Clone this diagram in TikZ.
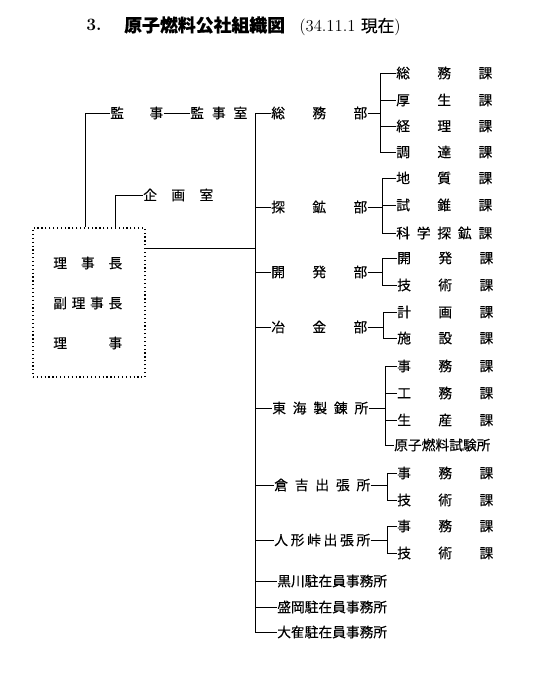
\documentclass[tikz,border=0pt]{standalone}
\usepackage{fontspec}
\newfontfamily\cjk[FakeBold=0.3]{Noto Sans CJK JP}
\usepackage{tikz}
\usetikzlibrary{positioning}
\newcommand{\spread}[2]{\makebox[#1][s]{#2}}

\begin{document}
\begin{tikzpicture}[x=0.75pt, y=-0.75pt,
    lbl/.style={anchor=west, inner sep=0pt, font=\cjk\fontsize{10.3}{12}\selectfont},
    link/.style={line width=0.7pt},
    execbox/.style={draw, dotted, line width=0.9pt, minimum width=84pt, minimum height=111.75pt, inner sep=0pt},
]
    \useasboundingbox (0,0) rectangle (537,685);

    % Title
    \node[anchor=west, inner sep=0pt, font=\bfseries\fontsize{13}{15}\selectfont] (num) at (86,25) {3.};
    \node[lbl, font=\cjk\bfseries\fontsize{13.4}{16}\selectfont] (title) at (124,25) {原子燃料公社組織図};
    \node[anchor=west, inner sep=0pt, font=\fontsize{12.5}{14}\selectfont] (date) at (299,27) {(34.11.1 {\cjk 現在})};

    % Executive box
    \node[execbox] (exec) at (89,302.5) {};
    \node[lbl] (chair) at (53,263) {\spread{51.75pt}{理\hfill 事\hfill 長}};
    \node[lbl] (vice)  at (53,303) {\spread{51.75pt}{副\hfill 理\hfill 事\hfill 長}};
    \node[lbl] (dir)   at (53,343) {\spread{51.75pt}{理\hfill 事}};

    % Auditor and planning office
    \node[lbl] (kanji)  at (110,113) {\spread{39.75pt}{監\hfill 事}};
    \node[lbl] (kanjishitsu) at (190,113) {\spread{42.75pt}{監\hfill 事\hfill 室}};
    \node[lbl] (kikaku) at (143,195) {\spread{52.5pt}{企\hfill 画\hfill 室}};
    \coordinate (kbus) at (85,0);
    \coordinate (pbus) at (115,0);
    \draw[link] (kanji.west) -| (exec.north -| kbus);
    \draw[link] (kanji.east) -- (kanjishitsu.west);
    \draw[link] (kikaku.west) -| (exec.north -| pbus);

    % Departments
    \node[lbl] (somu)      at (271,113) {\spread{72pt}{総\hfill 務\hfill 部}};
    \node[lbl] (tanko)     at (271,207) {\spread{72pt}{探\hfill 鉱\hfill 部}};
    \node[lbl] (kaihatsu)  at (271,272) {\spread{72pt}{開\hfill 発\hfill 部}};
    \node[lbl] (yakin)     at (271,327) {\spread{72pt}{冶\hfill 金\hfill 部}};
    \node[lbl] (tokai)     at (272,408) {\spread{72pt}{東\hfill 海\hfill 製\hfill 錬\hfill 所}};
    \node[lbl] (kurayoshi) at (274,485) {\spread{72pt}{倉\hfill 吉\hfill 出\hfill 張\hfill 所}};
    \node[lbl] (ningyo)    at (274,540) {\spread{72pt}{人\hfill 形\hfill 峠\hfill 出\hfill 張\hfill 所}};
    \node[lbl] (kurokawa)  at (277,581) {黒川駐在員事務所};
    \node[lbl] (morioka)   at (277,607) {盛岡駐在員事務所};
    \node[lbl] (ootaka)    at (277,632) {大隺駐在員事務所};

    % Main line
    \coordinate (bus) at (255,0);
    \coordinate (tap) at (0,248);
    \draw[link] (somu.west) -| (bus |- ootaka.west) -- (ootaka.west);
    \foreach \n in {tanko,kaihatsu,yakin,tokai,kurayoshi,ningyo,kurokawa,morioka}
        \draw[link] (\n.west) -- (\n.west -| bus);
    \draw[link] (exec.east |- tap) -- (bus |- tap);

    % Sections
    \node[lbl] (ka11) at (396,73)  {\spread{72pt}{総\hfill 務\hfill 課}};
    \node[lbl] (ka12) at (396,100) {\spread{72pt}{厚\hfill 生\hfill 課}};
    \node[lbl] (ka13) at (396,126) {\spread{72pt}{経\hfill 理\hfill 課}};
    \node[lbl] (ka14) at (396,152) {\spread{72pt}{調\hfill 達\hfill 課}};
    \node[lbl] (ka21) at (396,178) {\spread{72pt}{地\hfill 質\hfill 課}};
    \node[lbl] (ka22) at (396,205) {\spread{72pt}{試\hfill 錐\hfill 課}};
    \node[lbl] (ka23) at (396,233) {\spread{72pt}{科\hfill 学\hfill 探\hfill 鉱\hfill 課}};
    \node[lbl] (ka31) at (397,258) {\spread{72pt}{開\hfill 発\hfill 課}};
    \node[lbl] (ka32) at (397,285) {\spread{72pt}{技\hfill 術\hfill 課}};
    \node[lbl] (ka41) at (397,312) {\spread{72pt}{計\hfill 画\hfill 課}};
    \node[lbl] (ka42) at (397,338) {\spread{72pt}{施\hfill 設\hfill 課}};
    \node[lbl] (ka51) at (397,366) {\spread{72pt}{事\hfill 務\hfill 課}};
    \node[lbl] (ka52) at (397,393) {\spread{72pt}{工\hfill 務\hfill 課}};
    \node[lbl] (ka53) at (397,420) {\spread{72pt}{生\hfill 産\hfill 課}};
    \node[lbl] (ka54) at (394,445) {原子燃料試験所};
    \node[lbl] (ka61) at (397,473) {\spread{72pt}{事\hfill 務\hfill 課}};
    \node[lbl] (ka62) at (397,500) {\spread{72pt}{技\hfill 術\hfill 課}};
    \node[lbl] (ka71) at (397,526) {\spread{72pt}{事\hfill 務\hfill 課}};
    \node[lbl] (ka72) at (397,553) {\spread{72pt}{技\hfill 術\hfill 課}};

    % Section lines
    \coordinate (s1) at (380,0);
    \coordinate (s2) at (382,0);
    \coordinate (s3) at (382,0);
    \coordinate (s4) at (383,0);
    \coordinate (s5) at (385,0);
    \coordinate (s6) at (387,0);
    \coordinate (s7) at (387,0);
    \foreach \d/\a/\b/\s in {somu/ka11/ka14/s1, tanko/ka21/ka23/s2, kaihatsu/ka31/ka32/s3,
        yakin/ka41/ka42/s4, tokai/ka51/ka54/s5, kurayoshi/ka61/ka62/s6, ningyo/ka71/ka72/s7} {
        \draw[link] (\a.west) -| (\s |- \b.west) -- (\b.west);
        \draw[link] (\d.east) -- (\d.east -| \s);
    }
    \foreach \n/\s in {ka12/s1, ka13/s1, ka22/s2, ka52/s5, ka53/s5}
        \draw[link] (\n.west) -- (\n.west -| \s);
\end{tikzpicture}
\end{document}
